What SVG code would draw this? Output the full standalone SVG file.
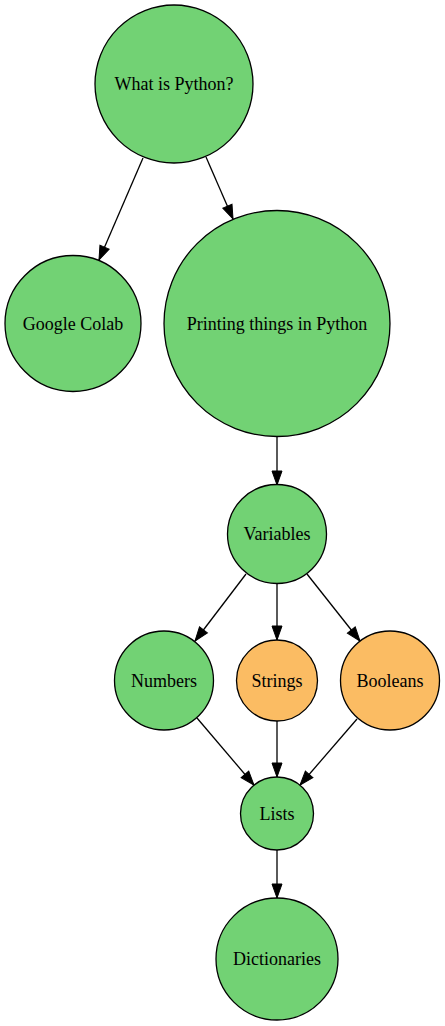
<svg xmlns="http://www.w3.org/2000/svg" width="445" height="1026" viewBox="0 0 445 1026">
<style>
.n circle{stroke:#000;stroke-width:1.3}
.g circle{fill:#72d274}
.o circle{fill:#fbbc63}
.n text{font-family:"Liberation Serif","Times New Roman",serif;font-size:18px;text-anchor:middle;fill:#000}
.e line{stroke:#000;stroke-width:1.3;marker-end:url(#ah)}
</style>
<defs>
<marker id="ah" markerUnits="userSpaceOnUse" markerWidth="15" markerHeight="11" refX="14" refY="5.5" orient="auto" overflow="visible">
<path d="M0,0.5 L14,5.5 L0,10.5 Z" fill="#000" stroke="#000" stroke-width="1"/>
</marker>
</defs>
<rect width="445" height="1026" fill="#fff"/>
<g id="edges" class="e">
<line x1="143" y1="158" x2="99" y2="260"/>
<line x1="206" y1="157" x2="233" y2="219"/>
<line x1="277" y1="436" x2="277" y2="485"/>
<line x1="246" y1="574" x2="195" y2="641"/>
<line x1="277" y1="583" x2="277" y2="640"/>
<line x1="307" y1="574" x2="360" y2="641"/>
<line x1="197" y1="718" x2="254" y2="785"/>
<line x1="277" y1="721" x2="277" y2="777"/>
<line x1="357" y1="719" x2="300" y2="785"/>
<line x1="277" y1="850" x2="277" y2="898"/>
</g>
<g id="what" class="n g"><circle cx="174" cy="84" r="79"/><text x="174" y="90">What is Python?</text></g>
<g id="colab" class="n g"><circle cx="73" cy="323.5" r="68"/><text x="73" y="329.5">Google Colab</text></g>
<g id="printing" class="n g"><circle cx="277" cy="323.5" r="113"/><text x="277" y="329.5">Printing things in Python</text></g>
<g id="variables" class="n g"><circle cx="277" cy="534" r="49.5"/><text x="277" y="540">Variables</text></g>
<g id="numbers" class="n g"><circle cx="164" cy="680.5" r="49.5"/><text x="164" y="686.5">Numbers</text></g>
<g id="strings" class="n o"><circle cx="277" cy="680.5" r="40.5"/><text x="277" y="686.5">Strings</text></g>
<g id="booleans" class="n o"><circle cx="390" cy="680.5" r="49.5"/><text x="390" y="686.5">Booleans</text></g>
<g id="lists" class="n g"><circle cx="277" cy="813.5" r="36.5"/><text x="277" y="819.5">Lists</text></g>
<g id="dicts" class="n g"><circle cx="277" cy="959" r="61"/><text x="277" y="965">Dictionaries</text></g>
</svg>
